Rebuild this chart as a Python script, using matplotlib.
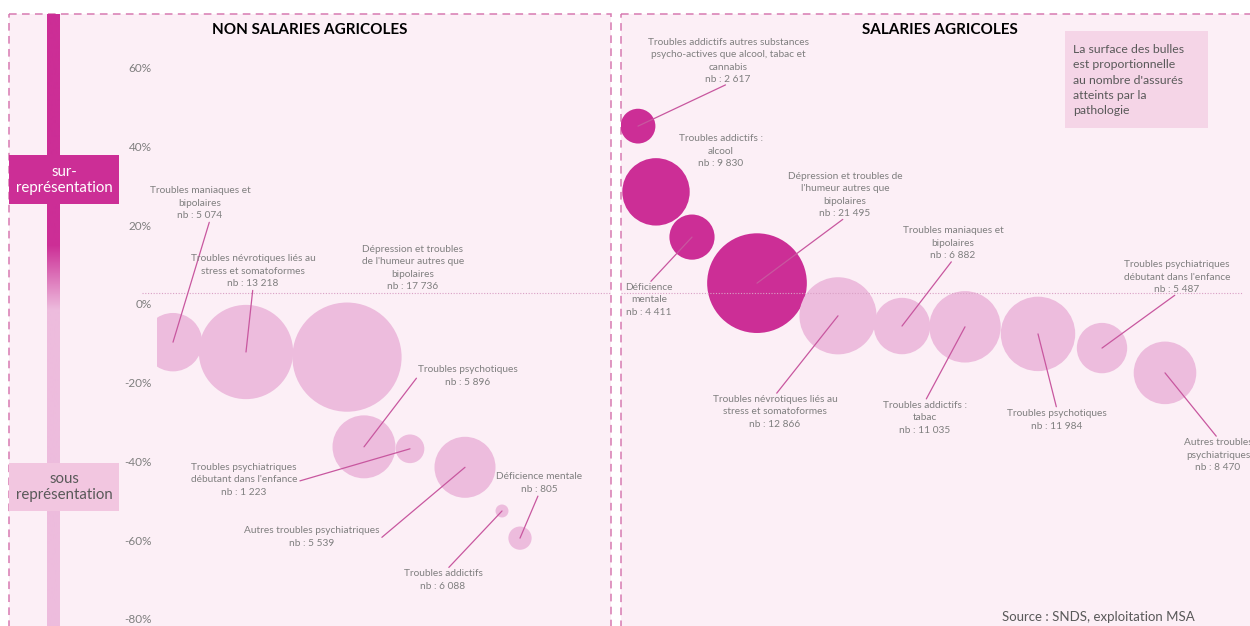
import numpy as np
import matplotlib
matplotlib.use("Agg")
import matplotlib.pyplot as plt
from matplotlib.patches import Rectangle
from matplotlib.colors import to_rgb

plt.rcParams['font.family'] = ['Lato', 'DejaVu Sans']

# ---- data : non salariés agricoles
nsa_labels = ["Troubles maniaques et\nbipolaires",
              "Troubles névrotiques liés au\nstress et somatoformes",
              "Dépression et troubles\nde l'humeur autres que\nbipolaires",
              "Troubles psychotiques",
              "Troubles psychiatriques\ndébutant dans l'enfance",
              "Autres troubles psychiatriques",
              "Troubles addictifs",
              "Déficience mentale"]
nsa_nb = [5074, 13218, 17736, 5896, 1223, 5539, 6088, 805]
# bubble areas as drawn (the "Troubles addictifs" bubble is much smaller than its printed nb)
nsa_area = [5074, 13218, 17736, 5896, 1223, 5539, 250, 805]
nsa_ecart = [-9.7, -12.2, -13.5, -36.3, -36.8, -41.5, -52.6, -59.5]

# ---- data : salariés agricoles
sa_labels = ["Troubles addictifs autres substances\npsycho-actives que alcool, tabac et\ncannabis",
             "Troubles addictifs :\nalcool",
             "Déficience\nmentale",
             "Dépression et troubles de\nl'humeur autres que\nbipolaires",
             "Troubles névrotiques liés au\nstress et somatoformes",
             "Troubles maniaques et\nbipolaires",
             "Troubles addictifs :\ntabac",
             "Troubles psychotiques",
             "Troubles psychiatriques\ndébutant dans l'enfance",
             "Autres troubles\npsychiatriques"]
sa_nb = [2617, 9830, 4411, 21495, 12866, 6882, 11035, 11984, 5487, 8470]
sa_ecart = [45.2, 28.5, 17.0, 5.3, -3.0, -5.6, -5.8, -7.6, -11.2, -17.5]

yticks = [60, 40, 20, 0, -20, -40, -60, -80]
ref_line = 2.8

# ---- layout (figure pixels, from top-left) and leader start on the label box
nsa_xpos = [173, 246, 347, 364, 410, 465, 502, 520]
sa_xpos = [638, 656, 692, 757, 838, 902, 965, 1038, 1102, 1165]
nsa_lab = [(200, 203), (253, 271), (413, 268), (468, 376), (244, 480), (312, 537), (443, 580), (539, 483)]
nsa_rel = [(0.6, 0), (0.5, 0), None, (0, 0.5), (1, 0.45), (1, 0.4), (0.55, 1), (0.5, 0)]
sa_lab = [(728, 61), (721, 151), (649, 300), (845, 195), (775, 412), (953, 243), (925, 418), (1057, 420), (1177, 277), (1218, 455)]
sa_rel = [(0.5, 0), None, (0.5, 1), (0.5, 0), (0.5, 1), (0.5, 0), (0.5, 1), (0.5, 1), (0.5, 0), (0.5, 1)]

MAGENTA = '#CC2E96'
LIGHT = '#EDBCDD'
BG = '#FCEFF6'
GREY = '#7f7f7f'
DARK = '#595959'
W, H = 1250, 626

fig = plt.figure(figsize=(12.5, 6.26), dpi=100)
fig.patch.set_facecolor('white')

# background axes in pixel coordinates for decorations
bg = fig.add_axes([0, 0, 1, 1], zorder=0)
for x0, x1 in [(9, 611), (621, 1262)]:
    bg.add_patch(Rectangle((x0, 14), x1 - x0, 640, facecolor=BG, edgecolor='#D77AB2',
                           lw=1.1, linestyle=(0, (5, 3.5)), clip_on=False))

# gradient bar
ys = np.arange(14, H + 1)
t = np.clip((ys - 245) / (310 - 245), 0, 1)[:, None]
grad = (1 - t) * np.array(to_rgb(MAGENTA)) + t * np.array(to_rgb(LIGHT))
bg.imshow(grad[:, None, :], extent=(47, 60, H, 14), aspect='auto', interpolation='bilinear', zorder=1)
bg.set_xlim(0, W)
bg.set_ylim(H, 0)
bg.axis('off')

bg.add_patch(Rectangle((9, 155), 110, 49, facecolor=MAGENTA, edgecolor='none', zorder=2))
bg.text(64, 180, "sur-\nreprésentation", color='white', fontsize=10.8, ha='center', va='center',
        linespacing=1.15, zorder=3)
bg.add_patch(Rectangle((9, 463), 110, 48, facecolor='#F2C6E0', edgecolor='none', zorder=2))
bg.text(64, 487, "sous\nreprésentation", color=DARK, fontsize=10.8, ha='center', va='center',
        linespacing=1.15, zorder=3)

bg.add_patch(Rectangle((1065, 31), 143, 97, facecolor='#F5D5E7', edgecolor='none', zorder=2))
bg.text(1073, 80, "La surface des bulles\nest proportionnelle\nau nombre d'assurés\natteints par la\npathologie",
        color=DARK, fontsize=8.8, ha='left', va='center', linespacing=1.45, zorder=3)
bg.text(1098, 617, "Source : SNDS, exploitation MSA", color=DARK, fontsize=9.5, ha='center', va='center')

bg.text(310, 30, "NON SALARIES AGRICOLES", fontsize=11, fontweight='bold', ha='center', va='center', color='black')
bg.text(940, 30, "SALARIES AGRICOLES", fontsize=11, fontweight='bold', ha='center', va='center', color='black')

ylo = -(H - 304) / 3.935
yhi = 304 / 3.935


def fmt_nb(n):
    return "nb : " + f"{n:,}".replace(",", " ")


def panel(rect, xlim, xpos, ecart, area, nb, labels, labpos, rel, k):
    ax = fig.add_axes(rect, zorder=1)
    ax.set_facecolor('none')
    ax.set_xlim(*xlim)
    ax.set_ylim(ylo, yhi)
    for s in ax.spines.values():
        s.set_visible(False)
    ax.set_xticks([])
    colors = [MAGENTA if e > 0 else LIGHT for e in ecart]
    sizes = (1.44 * k) ** 2 * np.array(area)
    ax.scatter(xpos, ecart, s=sizes, c=colors, edgecolors='none', zorder=2)
    for i, lab in enumerate(labels):
        lx, ly = labpos[i]
        txt = lab + "\n" + fmt_nb(nb[i])
        arrow = None
        if rel[i] is not None:
            arrow = dict(arrowstyle='-', color='#C8579F', lw=0.9, shrinkA=2, shrinkB=0,
                         relpos=rel[i], patchA=None)
        ax.annotate(txt, xy=(xpos[i], ecart[i]), xycoords='data', xytext=(lx, H - ly),
                    textcoords='figure pixels', ha='center', va='center', fontsize=7.3,
                    color=GREY, linespacing=1.45, arrowprops=arrow, zorder=3,
                    annotation_clip=False)
    return ax


ax1 = panel([157 / W, 0, (611 - 157) / W, 1], (157, 611), nsa_xpos, nsa_ecart, nsa_area, nsa_nb,
            nsa_labels, nsa_lab, nsa_rel, 0.41)
ax1.set_yticks(yticks)
ax1.set_yticklabels([f"{v}%" for v in yticks], color=GREY, fontsize=8.5)
ax1.tick_params(axis='y', length=0, pad=4)
ax1.plot([142, 611], [ref_line, ref_line], ls=(0, (1, 1.5)), color='#D9A0C5', lw=0.8, clip_on=False, zorder=1)

ax2 = panel([621 / W, 0, (W - 621) / W, 1], (621, W), sa_xpos, sa_ecart, sa_nb, sa_nb,
            sa_labels, sa_lab, sa_rel, 0.34)
ax2.set_yticks([])
ax2.plot([621, 1243], [ref_line, ref_line], ls=(0, (1, 1.5)), color='#D9A0C5', lw=0.8, zorder=2.5)

fig.savefig('out.png', dpi=100)
